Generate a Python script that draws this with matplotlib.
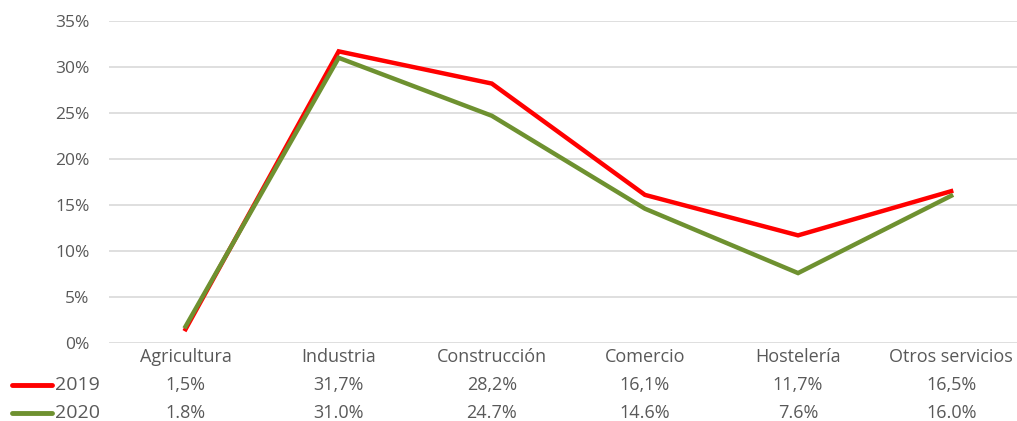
import matplotlib
matplotlib.use("Agg")
import matplotlib.pyplot as plt
from matplotlib.ticker import FuncFormatter, MultipleLocator
import matplotlib.transforms as mtransforms

categories = ["Agricultura", "Industria", "Construcción", "Comercio", "Hostelería", "Otros servicios"]
series_names = ["2019", "2020"]
values_2019 = [1.5, 31.7, 28.2, 16.1, 11.7, 16.5]
values_2020 = [1.8, 31.0, 24.7, 14.6, 7.6, 16.0]
labels_2019 = ["1,5%", "31,7%", "28,2%", "16,1%", "11,7%", "16,5%"]
labels_2020 = ["1.8%", "31.0%", "24.7%", "14.6%", "7.6%", "16.0%"]

colors = ["#FF0000", "#6E9130"]
text_color = "#595959"
plt.rcParams['font.family'] = ['Open Sans', 'DejaVu Sans']

fig = plt.figure(figsize=(10.17, 4.21), dpi=100)
ax = fig.add_axes([109/1017, 1 - 343/421, 1 - 109/1017, (343 - 21)/421])

x = list(range(len(categories)))
ax.plot(x, values_2019, color=colors[0], lw=3.2, solid_joinstyle='miter', zorder=3)
ax.plot(x, values_2020, color=colors[1], lw=3.2, solid_joinstyle='miter', zorder=3)

ax.set_ylim(0, 35)
ax.set_xlim(-0.5, 5.43)
ax.yaxis.set_major_locator(MultipleLocator(5))
ax.yaxis.set_major_formatter(FuncFormatter(lambda v, p: f"{int(v)}%"))
ax.grid(axis='y', color="#D9D9D9", lw=1.2)
ax.set_axisbelow(True)
for s in ax.spines.values():
    s.set_visible(False)
ax.tick_params(axis='y', length=0, labelsize=12.5, labelcolor=text_color, pad=14)
ax.set_xticks([])

trans = mtransforms.blended_transform_factory(ax.transData, fig.transFigure)
rows = [(None, categories), (0, labels_2019), (1, labels_2020)]
ys = [1 - 357/421, 1 - 385/421, 1 - 413/421]
for (idx, labs), yy in zip(rows, ys):
    for xi, lab in zip(x, labs):
        ax.text(xi, yy, lab, transform=trans, ha='center', va='center',
                fontsize=13, color=text_color, clip_on=False)
    if idx is not None:
        fig.add_artist(plt.Line2D([12/1017, 52/1017], [yy, yy], color=colors[idx],
                                  lw=3.5, solid_capstyle='round', transform=fig.transFigure))
        fig.text(55/1017, yy, series_names[idx], ha='left', va='center',
                 fontsize=14, color=text_color)

fig.savefig("out.png", dpi=100)
